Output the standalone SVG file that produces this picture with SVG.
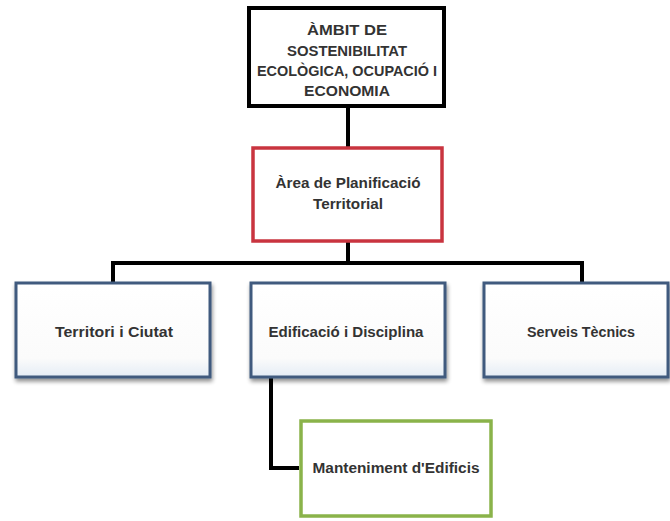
<svg xmlns="http://www.w3.org/2000/svg" width="670" height="521" viewBox="0 0 670 521">
<defs>
<linearGradient id="bg" x1="0" y1="0" x2="0" y2="1">
<stop offset="0" stop-color="#ffffff"/>
<stop offset="0.8" stop-color="#fbfbfb"/>
<stop offset="1" stop-color="#e4ecf5"/>
</linearGradient>
<filter id="sh" x="-10%" y="-10%" width="125%" height="130%">
<feGaussianBlur in="SourceAlpha" stdDeviation="2"/>
<feOffset dx="1" dy="3"/>
<feComponentTransfer><feFuncA type="linear" slope="0.45"/></feComponentTransfer>
<feMerge><feMergeNode/><feMergeNode in="SourceGraphic"/></feMerge>
</filter>
</defs>
<style>
text{font-family:"Liberation Sans",Arial,sans-serif;font-weight:bold;font-size:14px;fill:#333;text-anchor:middle}
.blue{fill:url(#bg);stroke:#3f5a7e;stroke-width:3;filter:url(#sh)}
.conn{fill:none;stroke:#000;stroke-width:4}
</style>
<rect width="670" height="521" fill="#fff"/>
<g id="connectors">
<line class="conn" x1="348" y1="107" x2="348" y2="147"/>
<line class="conn" x1="348" y1="242" x2="348" y2="263"/>
<polyline class="conn" points="113,283 113,263 582,263 582,283"/>
<polyline class="conn" points="271,378 271,468 299,468"/>
</g>
<g id="ambit">
<rect x="249" y="8" width="195" height="98" fill="#fff" stroke="#000" stroke-width="4"/>
<text x="347" y="35" textLength="80" lengthAdjust="spacingAndGlyphs">ÀMBIT DE</text>
<text x="347" y="56" textLength="120" lengthAdjust="spacingAndGlyphs">SOSTENIBILITAT</text>
<text x="347" y="76" textLength="180" lengthAdjust="spacingAndGlyphs">ECOLÒGICA, OCUPACIÓ I</text>
<text x="347" y="96" textLength="86" lengthAdjust="spacingAndGlyphs">ECONOMIA</text>
</g>
<g id="area">
<rect x="253" y="148" width="189" height="93" fill="#fff" stroke="#c9343f" stroke-width="3.5"/>
<text x="348" y="188" textLength="145" lengthAdjust="spacingAndGlyphs">Àrea de Planificació</text>
<text x="348" y="209" textLength="70" lengthAdjust="spacingAndGlyphs">Territorial</text>
</g>
<g id="territori">
<rect class="blue" x="16" y="283" width="194" height="94"/>
<text x="114" y="337" textLength="118" lengthAdjust="spacingAndGlyphs">Territori i Ciutat</text>
</g>
<g id="edificacio">
<rect class="blue" x="251" y="283" width="194" height="94"/>
<text x="346" y="337" textLength="155" lengthAdjust="spacingAndGlyphs">Edificació i Disciplina</text>
</g>
<g id="serveis">
<rect class="blue" x="484" y="283" width="184" height="94"/>
<text x="581" y="337" textLength="108" lengthAdjust="spacingAndGlyphs">Serveis Tècnics</text>
</g>
<g id="manteniment">
<rect x="301" y="421" width="190" height="95" fill="#fff" stroke="#8ab34a" stroke-width="3.5"/>
<text x="396" y="473" textLength="167" lengthAdjust="spacingAndGlyphs">Manteniment d'Edificis</text>
</g>
</svg>
